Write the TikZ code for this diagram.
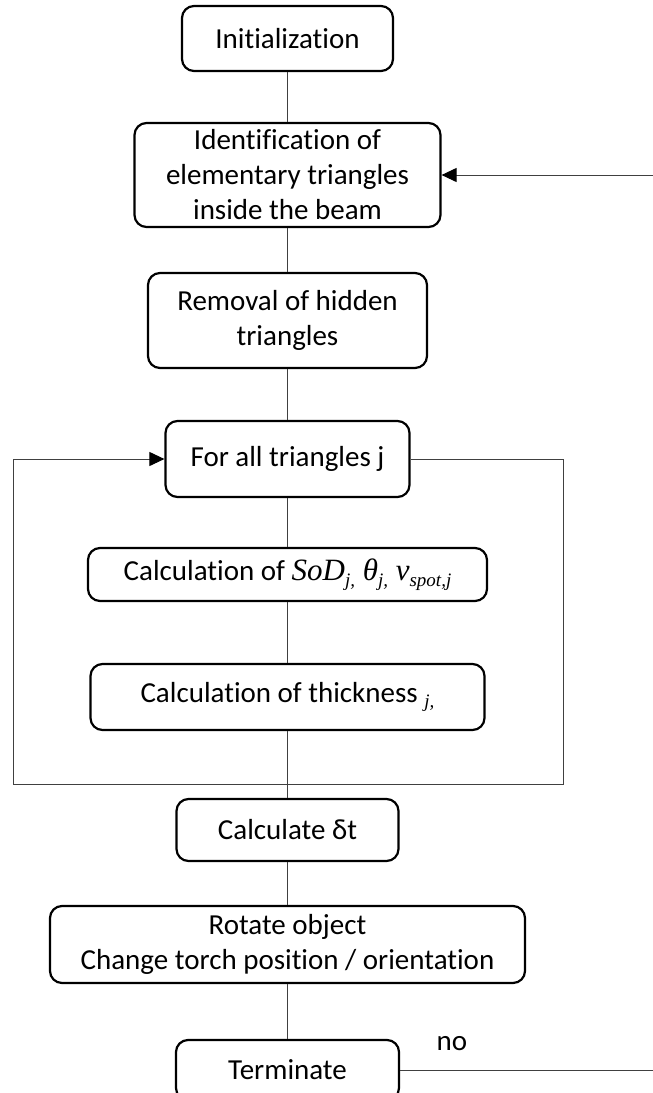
\documentclass[tikz,border=0pt]{standalone}
\usepackage{fontspec}
\setmainfont{Carlito}[RawFeature={-liga}]
\newfontfamily\tms{Liberation Serif}
\usetikzlibrary{arrows.meta}
\newcommand\msub[1]{\raisebox{-0.4ex}{\fontsize{19}{19}\selectfont #1}}
\begin{document}
\begin{tikzpicture}[x=1pt,y=-1pt,
  box/.style={draw, line width=2.2pt, rounded corners=12pt, align=center, inner sep=0pt,
              font=\fontsize{29}{35}\selectfont},
  link/.style={draw=black!75, line width=1pt},
  arr/.style={link, -{Triangle[length=15pt,width=14pt,color=black]}}]
\useasboundingbox (0,0) rectangle (653,1093);
\begin{scope}
\clip (0,0) rectangle (653,1093);
\node[box, minimum width=211pt, minimum height=65pt] (init) at (287.5,38.5) {Initialization};
\node[box, minimum width=306pt, minimum height=104pt] (ident) at (287.5,175) {Identification of\\elementary triangles\\inside the beam};
\node[box, minimum width=279pt, minimum height=95pt] (remove) at (287.5,320.5) {Removal of hidden\\triangles};
\node[box, minimum width=244pt, minimum height=76pt] (forall) at (287.5,459) {For all triangles j};
\node[box, minimum width=399pt, minimum height=53pt] (calc) at (287.5,574.5) {Calculation of {\tms\itshape\fontsize{31}{35}\selectfont SoD\msub{j,} θ\msub{j,} v\msub{spot,j}}};
\node[box, minimum width=394pt, minimum height=66pt] (thick) at (287.5,697) {Calculation of thickness {\tms\itshape\msub{j,}}};
\node[box, minimum width=222pt, minimum height=62pt] (dt) at (287.5,830) {Calculate δt};
\node[box, minimum width=475pt, minimum height=77pt] (rot) at (287.5,944.5) {Rotate object\\Change torch position / orientation};
\node[box, minimum width=223pt, minimum height=60pt] (term) at (287.5,1070) {Terminate};
\node[font=\fontsize{29}{35}\selectfont, inner sep=0pt] (no) at (452,1044) {no};

\draw[link] (init) -- (ident);
\draw[link] (ident) -- (remove);
\draw[link] (remove) -- (forall);
\draw[link] (forall) -- (calc);
\draw[link] (calc) -- (thick);
\draw[link] (thick) -- (dt);
\draw[link] (dt) -- (rot);
\draw[link] (rot) -- (term);

\coordinate (lr) at (563,784);
\coordinate (ll) at (13,784);
\draw[link] (forall.east) -| (lr) -- (ll);
\draw[arr] (ll) |- (forall.west);

\coordinate (R) at (653,1070);
\coordinate (Q) at (653,175);
\draw[link] (term.east) -- (R);
\draw[arr] (Q) -- (ident.east);
\end{scope}
\end{tikzpicture}
\end{document}
